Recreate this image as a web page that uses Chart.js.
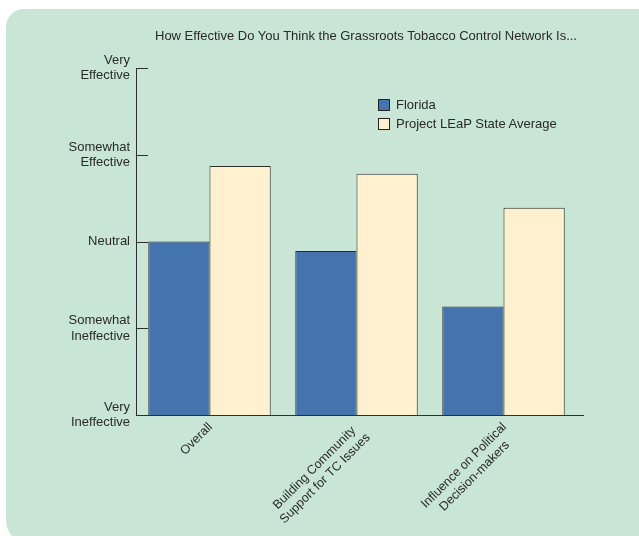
<!DOCTYPE html>
<html>
<head>
<meta charset="utf-8">
<script src="https://cdn.jsdelivr.net/npm/chart.js@4/dist/chart.umd.min.js"></script>
<style>
  html, body { margin: 0; padding: 0; background: #ffffff; }
  body { width: 639px; height: 536px; position: relative; overflow: hidden;
         font-family: "Liberation Sans", Arial, sans-serif; }
  #panel { position: absolute; left: 6px; top: 9px; width: 645px; height: 535px;
           background: #c8e5d6; border-radius: 18px 10px 0 24px; }
  #wrap { position: absolute; left: 0; top: 0; width: 639px; height: 536px; }
  #title { position: absolute; left: 155px; top: 28px; font-size: 13px; color: #2a2a2a;
           white-space: nowrap; }
  #legend { position: absolute; left: 378px; top: 95px; font-size: 13px; color: #2a2a2a; }
  #legend .row { display: flex; align-items: center; height: 19px; }
  #legend .sw { width: 10px; height: 10px; border: 1px solid #222; margin-right: 6px; }
</style>
</head>
<body>
<div id="panel"></div>
<div id="wrap"><canvas id="c" width="639" height="536"></canvas></div>
<div id="title">How Effective Do You Think the Grassroots Tobacco Control Network Is...</div>
<div id="legend"></div>
<script>
// Survey categories (x axis), multi-line
const categories = [
  ["Overall"],
  ["Building Community", "Support for TC Issues"],
  ["Influence on Political", "Decision-makers"]
];
// Rating scale labels, 1 = Very Ineffective ... 5 = Very Effective
const scaleLabels = [
  ["Very", "Ineffective"],
  ["Somewhat", "Ineffective"],
  ["Neutral"],
  ["Somewhat", "Effective"],
  ["Very", "Effective"]
];
const seriesNames = ["Florida", "Project LEaP State Average"];
const floridaValues = [3.0, 2.89, 2.25];
const leapValues = [3.87, 3.78, 3.39];

const colors = ["#4573ad", "#fff1cf"];
const textColor = "#2a2a2a";
const fontFamily = '"Liberation Sans", Arial, sans-serif';

// Short tick marks pointing into the plot area on the rating axis,
// plus a short run-out of the category axis past the last group
const axisExtras = {
  id: "axisExtras",
  afterDraw(chart) {
    const y = chart.scales.y, ctx = chart.ctx, area = chart.chartArea;
    ctx.save();
    ctx.strokeStyle = "#2e2e2e";
    ctx.lineWidth = 1;
    y.ticks.forEach(t => {
      const py = Math.round(y.getPixelForValue(t.value)) + 0.5;
      ctx.beginPath();
      ctx.moveTo(area.left, py);
      ctx.lineTo(area.left + 12, py);
      ctx.stroke();
    });
    const by = Math.round(area.bottom) + 0.5;
    ctx.beginPath();
    ctx.moveTo(area.right, by);
    ctx.lineTo(area.right + 7, by);
    ctx.stroke();
    ctx.restore();
  }
};

// Category labels rotated 45 degrees, lines centred on each other
const slantedLabels = {
  id: "slantedLabels",
  afterDraw(chart) {
    const x = chart.scales.x, ctx = chart.ctx, bottom = chart.chartArea.bottom;
    ctx.save();
    ctx.font = "12.5px " + fontFamily;
    ctx.fillStyle = textColor;
    ctx.textAlign = "center";
    ctx.textBaseline = "middle";
    const lh = 15;
    categories.forEach((lines, i) => {
      const px = x.getPixelForValue(i) + 1;
      const py = bottom + 10;
      const w = Math.max(...lines.map(s => ctx.measureText(s).width));
      ctx.save();
      ctx.translate(px, py);
      ctx.rotate(-Math.PI / 4);
      lines.forEach((s, k) => {
        ctx.fillText(s, -w / 2, k * lh);
      });
      ctx.restore();
    });
    ctx.restore();
  }
};

const chart = new Chart(document.getElementById("c"), {
  type: "bar",
  data: {
    labels: categories,
    datasets: [
      { label: seriesNames[0], data: floridaValues, backgroundColor: colors[0],
        borderColor: "#2e2e2e", borderWidth: 1, base: 1 },
      { label: seriesNames[1], data: leapValues, backgroundColor: colors[1],
        borderColor: "#2e2e2e", borderWidth: 1, base: 1 }
    ]
  },
  options: {
    responsive: false,
    animation: false,
    devicePixelRatio: 1,
    layout: { padding: { left: 0, right: 62, top: 68, bottom: 121 } },
    datasets: { bar: { categoryPercentage: 0.833, barPercentage: 1 } },
    plugins: { legend: { display: false }, title: { display: false }, tooltip: { enabled: false } },
    scales: {
      x: {
        grid: { display: false, drawTicks: false },
        border: { display: true, color: "#2e2e2e", width: 1 },
        ticks: { display: false }
      },
      y: {
        min: 1, max: 5,
        afterFit(scale) { scale.width = 136; },
        grid: { display: false, drawTicks: false },
        border: { display: true, color: "#2e2e2e", width: 1 },
        ticks: {
          stepSize: 1,
          padding: 6,
          color: textColor,
          font: { size: 13, family: fontFamily, lineHeight: 1.2 },
          callback: v => scaleLabels[Math.round(v) - 1]
        }
      }
    }
  },
  plugins: [axisExtras, slantedLabels]
});

// Legend entries built from the datasets
const legend = document.getElementById("legend");
chart.data.datasets.forEach(ds => {
  const row = document.createElement("div");
  row.className = "row";
  const sw = document.createElement("span");
  sw.className = "sw";
  sw.style.background = ds.backgroundColor;
  const tx = document.createElement("span");
  tx.textContent = ds.label;
  row.appendChild(sw);
  row.appendChild(tx);
  legend.appendChild(row);
});
</script>
</body>
</html>
